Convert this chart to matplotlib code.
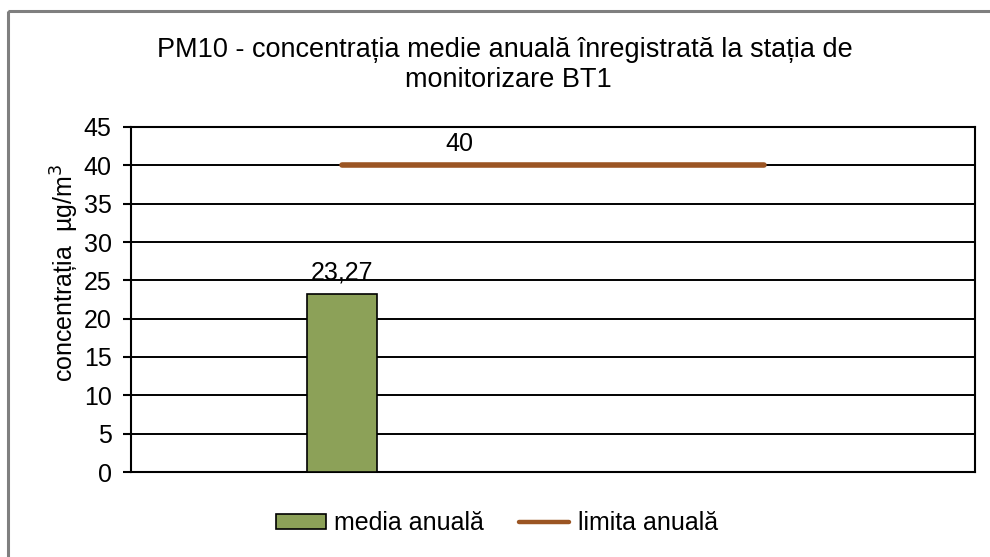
import matplotlib
matplotlib.use("Agg")
import matplotlib.pyplot as plt
import numpy as np
from matplotlib.patches import Rectangle

plt.rcParams['font.family'] = ['Liberation Sans', 'DejaVu Sans']

categories = [0, 1]
media_anuala = [23.27, np.nan]
limita_anuala = [40, 40]
yticks = [0, 5, 10, 15, 20, 25, 30, 35, 40, 45]

FS = 18
W, H = 990, 557
fig = plt.figure(figsize=(W/100, H/100), dpi=100)
fig.patch.set_facecolor('white')

# outer chart border (extends past right/bottom edges)
fig.patches.append(Rectangle((8/W, 1 - 10.5/H), 1.2, -1.2, transform=fig.transFigure,
                             fill=False, edgecolor='#7f7f7f', linewidth=2.2, zorder=0))

ax = fig.add_axes([131/W, 1 - 472/H, (975-131)/W, (472-127)/H])
ax.set_xlim(-0.5, 1.5)
ax.set_ylim(0, 45)
ax.set_yticks(yticks)
ax.set_yticklabels([str(t) for t in yticks], fontsize=FS)
ax.tick_params(axis='y', length=6, width=1.5, direction='out', pad=8)
ax.set_xticks([])
for t in yticks:
    ax.axhline(t, color='black', linewidth=1.4, zorder=1)
for s in ax.spines.values():
    s.set_linewidth(1.5)
    s.set_color('black')

bar_w = 70 / 422
bars = ax.bar(categories, media_anuala, width=bar_w, color='#8CA158', edgecolor='black',
              linewidth=1.2, zorder=3, label='media anuală')
line, = ax.plot(categories, limita_anuala, color='#9B5523', linewidth=4, zorder=4,
                solid_capstyle='round', label='limita anuală')

ax.annotate('23,27', (categories[0], media_anuala[0]), xytext=(0, 6.5), textcoords='offset points',
            ha='center', va='bottom', fontsize=FS)
ax.annotate('40', (0.277, limita_anuala[0]), xytext=(0, 7), textcoords='offset points',
            ha='center', va='bottom', fontsize=FS)

ax.set_ylabel('concentrația  µg/m$^3$', fontsize=FS)
ax.yaxis.set_label_coords((81 - 131) / 844, 0.577)

TFS = 19.5
fig.text(505/W, 1 - 50/H, 'PM10 - concentrația medie anuală înregistrată la stația de',
         ha='center', va='center', fontsize=TFS)
fig.text(508/W, 1 - 80/H, 'monitorizare BT1', ha='center', va='center', fontsize=TFS)

leg = fig.legend(handles=[bars, line], labels=['media anuală', 'limita anuală'],
                 loc='center', bbox_to_anchor=(497/W, 1 - 523/H), ncol=2, frameon=False,
                 fontsize=FS, handlelength=2.0, handletextpad=0.35, columnspacing=1.4,
                 handleheight=0.55, borderpad=0.2)
for l in leg.get_lines():
    l.set_linewidth(3.2)

fig.savefig('out.png', dpi=100, facecolor='white')
